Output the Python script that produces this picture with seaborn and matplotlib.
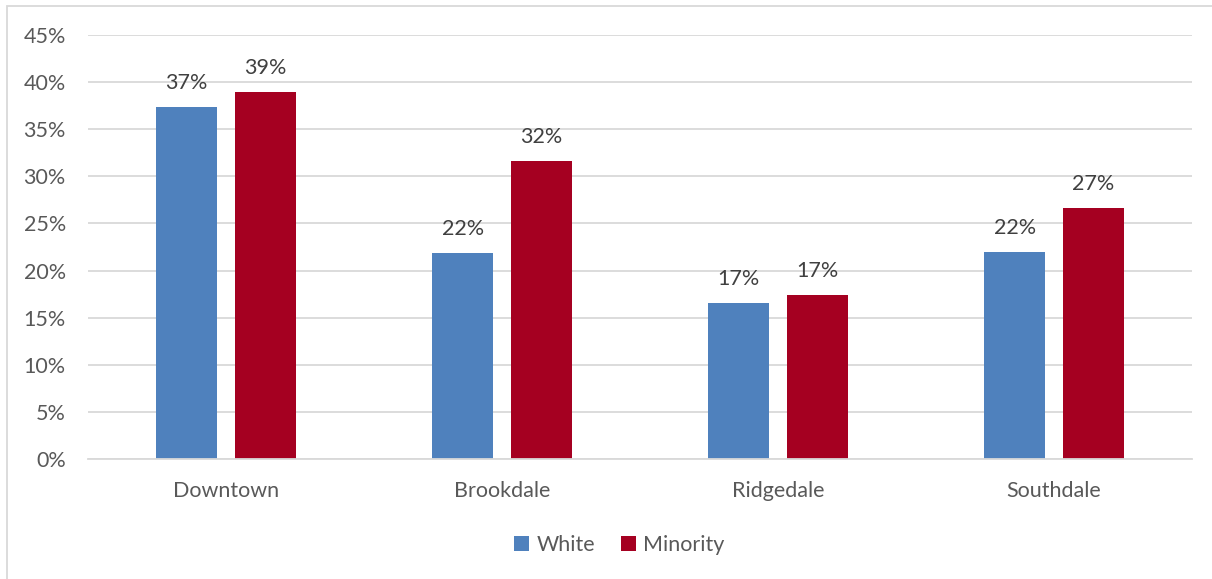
import pandas as pd
import matplotlib.pyplot as plt
import seaborn as sns
from matplotlib.patches import Rectangle
from matplotlib.ticker import PercentFormatter

# Datos
barrios = ["Downtown", "Brookdale", "Ridgedale", "Southdale"]
white = [37.4, 21.9, 16.6, 22.0]
minority = [39.0, 31.6, 17.4, 26.6]
grupos = ["White", "Minority"]
colores = ["#4F81BD", "#A50021"]

df = pd.DataFrame({
    "barrio": barrios * 2,
    "grupo": [grupos[0]] * len(barrios) + [grupos[1]] * len(barrios),
    "valor": white + minority,
})

sns.set_style("white")
plt.rcParams["font.family"] = ["Lato", "DejaVu Sans"]
texto = "#595959"
fs = 15.5

fig = plt.figure(figsize=(12.12, 5.79), dpi=100)
ax = fig.add_axes([0.0726, 0.2073, 0.9109, 0.7323])

sns.barplot(data=df, x="barrio", y="valor", hue="grupo", palette=colores,
            width=0.569, gap=0.22, ax=ax, legend=True, saturation=1,
            linewidth=0)

# Etiquetas de valores sobre las barras
for cont in ax.containers:
    ax.bar_label(cont, labels=[f"{v:.0f}%" for v in cont.datavalues],
                 padding=10, fontsize=fs, color="#404040")

ax.set_ylim(0, 45)
ax.set_yticks(range(0, 46, 5))
ax.yaxis.set_major_formatter(PercentFormatter(decimals=0))
ax.set_xlim(-0.5, 3.5)
ax.grid(axis="y", color="#D9D9D9", linewidth=1.3)
ax.set_axisbelow(True)
for s in ["top", "right", "left"]:
    ax.spines[s].set_visible(False)
ax.spines["bottom"].set_color("#D9D9D9")
ax.spines["bottom"].set_linewidth(1.3)
ax.tick_params(axis="both", length=0, labelsize=fs, colors=texto)
ax.tick_params(axis="y", pad=16)
ax.tick_params(axis="x", pad=16)
ax.set_xlabel("")
ax.set_ylabel("")

# Leyenda abajo al centro
handles, labels = ax.get_legend_handles_labels()
ax.get_legend().remove()
fig.legend(handles, labels, loc="center", bbox_to_anchor=(0.511, 0.059), ncol=2,
           frameon=False, fontsize=fs, labelcolor=texto, handlelength=0.7,
           handleheight=0.7, handletextpad=0.35, columnspacing=1.2)

# Borde del area del grafico
fig.patches.append(Rectangle((0.006, -0.01), 1.2, 1.0, transform=fig.transFigure,
                             fill=False, edgecolor="#D9D9D9", linewidth=1.3))

fig.savefig("out.png", dpi=100)
